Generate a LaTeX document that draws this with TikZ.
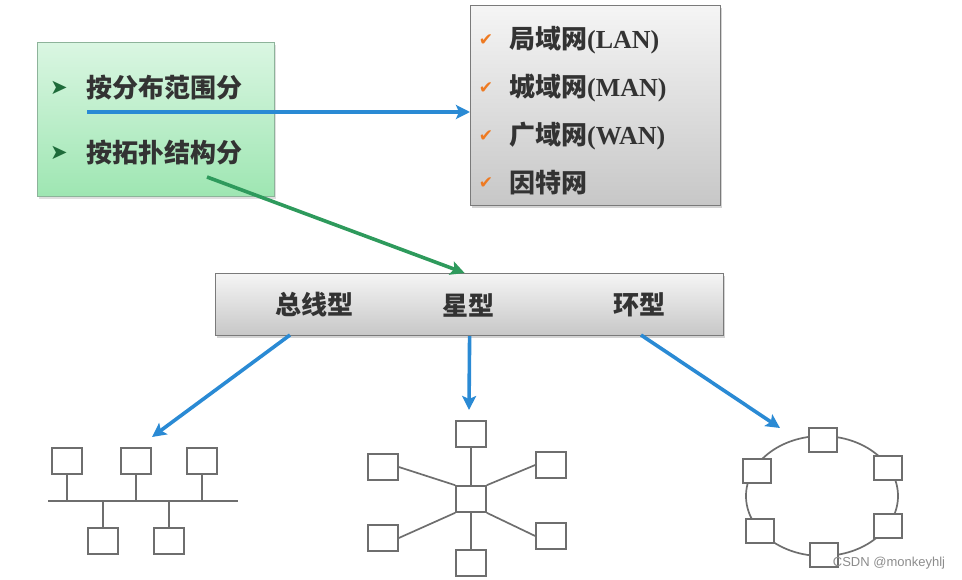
\documentclass[tikz,border=0pt]{standalone}
\usepackage{fontspec}
\setmainfont{Liberation Serif}
\newfontfamily\cjk{Noto Sans CJK SC}
\newfontfamily\sym{DejaVu Sans}
\newfontfamily\wmfont{Liberation Sans}
\usetikzlibrary{arrows.meta}
\usetikzlibrary{shadows}

\definecolor{txtgray}{HTML}{333333}
\definecolor{arrowblue}{HTML}{2A8AD4}
\definecolor{arrowgreen}{HTML}{2E9A5C}
\definecolor{lightgreen}{HTML}{DAF6E2}
\definecolor{deepgreen}{HTML}{9EE6B2}
\definecolor{greenline}{HTML}{8DB39A}
\definecolor{boxline}{HTML}{7A7A7A}
\definecolor{netline}{HTML}{6E6E6E}
\definecolor{checkorange}{HTML}{EE7A22}
\definecolor{bulletgreen}{HTML}{1E6B3A}

\tikzset{
  graybox/.style={draw=boxline, line width=1.2pt, top color=white!96!black, bottom color=white!78!black,
    drop shadow={shadow xshift=1pt, shadow yshift=-2pt, opacity=0.35}, inner sep=0pt},
  greenbox/.style={draw=greenline, line width=1.2pt, top color=lightgreen, bottom color=deepgreen,
    drop shadow={shadow xshift=1pt, shadow yshift=-2pt, opacity=0.25}, inner sep=0pt},
  cntext/.style={font=\bfseries\fontsize{26}{30}\selectfont, text=txtgray, inner sep=0pt},
  bulletmark/.style={font=\sym\fontsize{21}{21}\selectfont, text=bulletgreen, inner sep=0pt},
  checkmark/.style={font=\sym\fontsize{17}{17}\selectfont, text=checkorange, inner sep=0pt},
  flow/.style={-{Stealth[length=14pt,width=14pt,inset=3pt]}, line width=3.6pt},
  pc/.style={draw=netline, line width=1.6pt, fill=white, minimum width=30pt, minimum height=26pt, inner sep=0pt},
  wire/.style={draw=netline, line width=1.7pt}
}

\begin{document}
\begin{tikzpicture}[x=1pt,y=-1pt]
  \useasboundingbox (0,0) rectangle (962,580);

  % ways of classifying
  \node[greenbox, anchor=north west, minimum width=237pt, minimum height=154pt] (kind) at (37,42) {};
  \node[bulletmark] (b1) at (59,88) {➤};
  \node[cntext, anchor=west] (range) at (86,88) {\cjk 按分布范围分};
  \node[bulletmark] (b2) at (59,153) {➤};
  \node[cntext, anchor=west] (topology) at (86,153) {\cjk 按拓扑结构分};
  \coordinate (rstart) at (87,112);
  \coordinate (tstart) at (207,177);

  % by range
  \node[graybox, anchor=north west, minimum width=250pt, minimum height=200pt] (area) at (470,5) {};
  \node[checkmark] (c1) at (486,40) {✔};
  \node[cntext, anchor=west] (lan) at (509,40) {{\cjk 局域网}(LAN)};
  \node[checkmark] (c2) at (486,88) {✔};
  \node[cntext, anchor=west] (man) at (509,88) {{\cjk 城域网}(MAN)};
  \node[checkmark] (c3) at (486,136) {✔};
  \node[cntext, anchor=west] (wan) at (509,136) {{\cjk 广域网}(WAN)};
  \node[checkmark] (c4) at (486,183) {✔};
  \node[cntext, anchor=west] (inet) at (509,183) {\cjk 因特网};

  % by topology
  \node[graybox, anchor=north west, minimum width=508pt, minimum height=62pt] (topo) at (215,273) {};
  \node[cntext] (bustxt) at (314,305) {\cjk 总线型};
  \node[cntext] (startxt) at (468,305) {\cjk 星型};
  \node[cntext] (ringtxt) at (639,305) {\cjk 环型};
  \coordinate (bstart) at (290,335);
  \coordinate (qstart) at (641,335);
  \coordinate (bend) at (152,437);
  \coordinate (send) at (469,410);
  \coordinate (qend) at (780,428);

  \draw[flow, arrowblue] (rstart) -- (rstart -| area.west);
  \draw[flow, arrowgreen] (tstart) -- ([xshift=-5pt]topo.north);
  \draw[flow, arrowblue] (bstart) -- (bend);
  \draw[flow, arrowblue] (topo.south) -- (send);
  \draw[flow, arrowblue] (qstart) -- (qend);

  % bus
  \coordinate (busl) at (48,501);
  \coordinate (busr) at (238,501);
  \draw[wire] (busl) -- (busr);
  \node[pc] (bus1) at (67,461) {};
  \node[pc] (bus2) at (136,461) {};
  \node[pc] (bus3) at (202,461) {};
  \node[pc] (bus4) at (103,541) {};
  \node[pc] (bus5) at (169,541) {};
  \draw[wire] (bus1) -- (bus1 |- busl);
  \draw[wire] (bus2) -- (bus2 |- busl);
  \draw[wire] (bus3) -- (bus3 |- busl);
  \draw[wire] (bus4) -- (bus4 |- busl);
  \draw[wire] (bus5) -- (bus5 |- busl);

  % star
  \node[pc] (hub) at (471,499) {};
  \node[pc] (st1) at (471,434) {};
  \node[pc] (st2) at (383,467) {};
  \node[pc] (st3) at (551,465) {};
  \node[pc] (st4) at (383,538) {};
  \node[pc] (st5) at (551,536) {};
  \node[pc] (st6) at (471,563) {};
  \draw[wire] (st1.south) -- (hub.north);
  \draw[wire] (st2.east) -- (hub.north west);
  \draw[wire] (st3.west) -- (hub.north east);
  \draw[wire] (st4.east) -- (hub.south west);
  \draw[wire] (st5.west) -- (hub.south east);
  \draw[wire] (st6.north) -- (hub.south);

  % ring
  \draw[wire] (822,496) ellipse [x radius=76, y radius=60];
  \node[pc, minimum width=28pt, minimum height=24pt] (rg1) at (823,440) {};
  \node[pc, minimum width=28pt, minimum height=24pt] (rg2) at (888,468) {};
  \node[pc, minimum width=28pt, minimum height=24pt] (rg3) at (888,526) {};
  \node[pc, minimum width=28pt, minimum height=24pt] (rg4) at (824,555) {};
  \node[pc, minimum width=28pt, minimum height=24pt] (rg5) at (760,531) {};
  \node[pc, minimum width=28pt, minimum height=24pt] (rg6) at (757,471) {};

  \node[font=\wmfont\fontsize{13}{13}\selectfont, text=black!45, inner sep=0pt] (mark) at (889,563) {CSDN @monkeyhlj};
\end{tikzpicture}
\end{document}
